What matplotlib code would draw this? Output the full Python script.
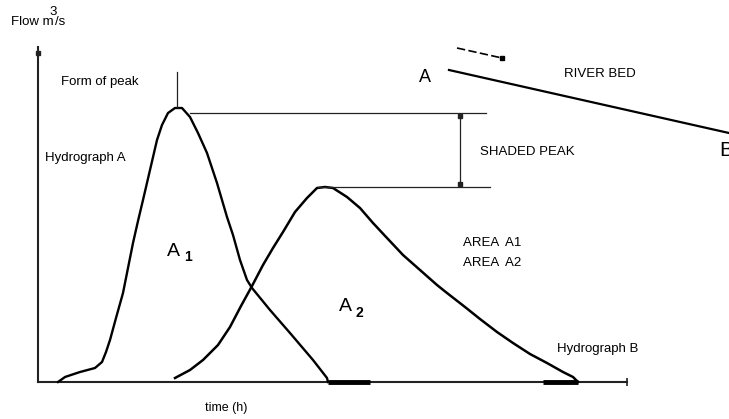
import matplotlib.pyplot as plt
import numpy as np

plt.rcParams['font.family'] = ['Liberation Sans', 'DejaVu Sans']

# hydrograph A (time in h, flow in m3/s, arbitrary units)
time_a = [2.0, 2.7, 4.2, 5.7, 6.4, 6.8, 7.2, 7.8, 8.5, 9.0, 9.5, 10.0, 10.5, 11.2,
          11.9, 12.4, 13.0, 13.7, 14.4, 15.2, 16.0, 16.9, 17.9, 18.9, 19.5, 20.2,
          20.9, 21.4, 23.2, 25.2, 27.5, 28.9, 29.0]
flow_a = [0, 0.5, 1.0, 1.4, 2.0, 3.0, 4.2, 6.4, 8.9, 11.4, 13.9, 16.1, 18.2, 21.2,
          24.2, 25.7, 26.9, 27.4, 27.4, 26.5, 24.9, 22.9, 19.9, 16.5, 14.7, 12.2,
          10.2, 9.4, 7.2, 4.9, 2.2, 0.4, 0]

# hydrograph B
time_b = [13.7, 15.2, 16.5, 18.0, 19.2, 20.3, 21.4, 22.5, 23.5, 24.5, 25.7, 26.9,
          27.9, 28.7, 29.5, 30.9, 32.2, 33.5, 34.9, 36.5, 38.2, 39.9, 40.9, 42.7,
          44.2, 45.9, 47.5, 49.2, 50.9, 52.5, 53.5, 54.0]
flow_b = [0.4, 1.2, 2.2, 3.7, 5.5, 7.6, 9.6, 11.7, 13.4, 15.0, 17.0, 18.4,
          19.4, 19.5, 19.4, 18.5, 17.4, 15.9, 14.4, 12.7, 11.2, 9.7, 8.9, 7.5,
          6.3, 5.0, 3.9, 2.8, 1.9, 1.0, 0.5, 0]

# base flow pieces after each hydrograph
tail_a = [29.0, 33.2]
tail_b = [50.5, 54.0]

# river bed sketch (same units)
bed_t = [41.1, 69.1]
bed_q = [31.2, 24.9]
flow_dir_t = [41.9, 46.4]
flow_dir_q = [33.4, 32.4]

peak_a = 26.9   # level of the line drawn from the top of A
peak_b = max(flow_b)


def at(x, y):
    '''pixel position of the sketch -> data units'''
    return (x - 38) / 10.0, (382 - y) / 10.0


fig = plt.figure(figsize=(7.29, 4.19), dpi=100)
ax = fig.add_axes([0, 0, 1, 1])
ax.set_xlim(-3.8, 69.1)
ax.set_ylim(-3.7, 38.2)
ax.axis('off')

# axes of the graph
ax.plot([0, 0], [0, 33.5], color='#222222', lw=1.5)
ax.plot([0, 58.9], [0, 0], color='#222222', lw=1.5)
ax.plot([0], [32.9], marker='s', ms=3, color='#222222')
ax.plot([58.9], [0], marker='|', ms=6, mew=1.2, color='#222222')

# hydrographs
ax.plot(time_a, flow_a, color='black', lw=1.7, solid_joinstyle='round')
ax.plot(time_b, flow_b, color='black', lw=1.8, solid_joinstyle='round')
ax.plot(tail_a, [0, 0], color='black', lw=3.5, solid_capstyle='butt')
ax.plot(tail_b, [0, 0], color='black', lw=3.5, solid_capstyle='butt')

# peak lines and arrow
ax.plot([15.2, 44.8], [peak_a, peak_a], color='#222222', lw=0.9)
ax.plot([28.0, 45.2], [peak_b, peak_b], color='#222222', lw=0.9)
ax.plot([42.2, 42.2], [peak_a - 0.3, peak_b + 0.3], color='#222222', lw=0.9)
ax.plot([42.2, 42.2], [peak_a - 0.3, peak_b + 0.3], ls='none', marker='s', ms=2.5, color='#222222')
ax.plot([13.9, 13.9], [27.5, 31.0], color='#222222', lw=0.9)

# river bed
ax.plot(bed_t, bed_q, color='black', lw=1.6)
ax.plot(flow_dir_t, flow_dir_q, color='black', lw=1.2, dashes=(5, 2))
ax.plot([flow_dir_t[1]], [flow_dir_q[1]], marker='s', ms=2.5, color='black')

# labels
ax.text(*at(11, 22), 'Flow m', fontsize=9.5, va='center', ha='left')
ax.text(*at(49, 12), '3', fontsize=9.5, va='center', ha='left')
ax.text(*at(55, 22), '/s', fontsize=9.5, va='center', ha='left')
ax.text(*at(226, 408), 'time (h)', fontsize=9, va='center', ha='center')
ax.text(*at(61, 82), 'Form of peak', fontsize=9.5, va='center', ha='left')
ax.text(*at(45, 158), 'Hydrograph A', fontsize=9.5, va='center', ha='left')
ax.text(*at(557, 349), 'Hydrograph B', fontsize=9.5, va='center', ha='left')
ax.text(*at(480, 152), 'SHADED PEAK', fontsize=9.5, va='center', ha='left')
ax.text(*at(600, 74), 'RIVER BED', fontsize=9.5, va='center', ha='center')
ax.text(*at(463, 243), 'AREA  A1', fontsize=9.5, va='center', ha='left')
ax.text(*at(463, 263), 'AREA  A2', fontsize=9.5, va='center', ha='left')
ax.text(*at(425, 77), 'A', fontsize=13, va='center', ha='center', fontweight='light')
ax.text(*at(719, 150), 'B', fontsize=15, va='center', ha='left')
ax.text(*at(173, 251), 'A', fontsize=14, va='center', ha='center', fontweight='light')
ax.text(*at(184, 257), '1', fontsize=10, va='center', ha='left', fontweight='bold')
ax.text(*at(345, 306), 'A', fontsize=14, va='center', ha='center', fontweight='light')
ax.text(*at(356, 313), '2', fontsize=10, va='center', ha='left', fontweight='bold')

plt.savefig('out.png', dpi=100)
